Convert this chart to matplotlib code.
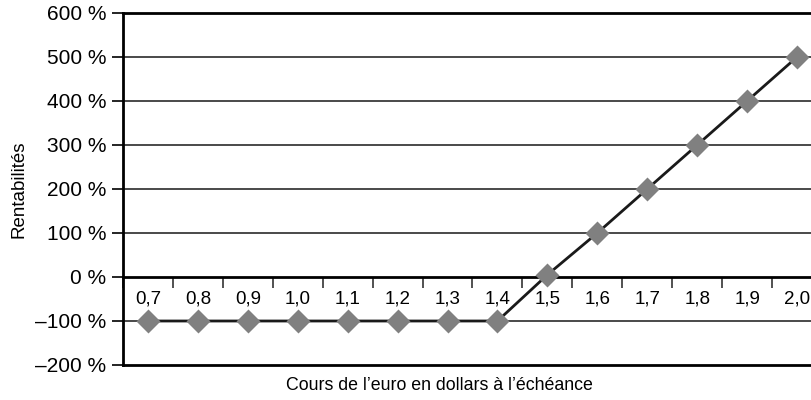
import numpy as np
import matplotlib.pyplot as plt

plt.rcParams['font.family'] = ['Liberation Sans', 'DejaVu Sans']

# cours de l'euro et rentabilités (%)
cours = ['0,7', '0,8', '0,9', '1,0', '1,1', '1,2', '1,3', '1,4',
         '1,5', '1,6', '1,7', '1,8', '1,9', '2,0']
rentab = [-100, -100, -100, -100, -100, -100, -100, -100,
          5, 100, 200, 300, 400, 500]
yticks = [-200, -100, 0, 100, 200, 300, 400, 500, 600]
ylabels = ['–200 %', '–100 %', '0 %', '100 %', '200 %', '300 %',
           '400 %', '500 %', '600 %']

fig = plt.figure(figsize=(8.12, 4.0), dpi=100)
ax = fig.add_axes([123/812, 35/400, 699/812, 352/400])

x = np.arange(len(cours))
ax.plot(x, rentab, color='#1a1a1a', lw=2, zorder=3)
ax.plot(x, rentab, ls='none', marker='D', ms=12, color='#808080',
        mec='none', zorder=4)

ax.set_xlim(-0.5, len(cours) - 0.5)
ax.set_ylim(-200, 600)
ax.set_yticks(yticks)
ax.set_yticklabels(ylabels, fontsize=15)
ax.tick_params(axis='y', length=8, width=1.2, direction='out', pad=4)
ax.set_xticks([])

# grille horizontale
for v in yticks[1:-1]:
    if v != 0:
        ax.axhline(v, color='#3a3a3a', lw=1.3, zorder=1)

for s in ['left', 'bottom', 'top', 'right']:
    ax.spines[s].set_linewidth(2)
    ax.spines[s].set_color('black')

# axe des x sur la ligne 0 %
sec = ax.secondary_xaxis(0.25)
sec.set_xticks(x)
sec.set_xticklabels(cours, fontsize=13.5)
sec.set_xticks(np.arange(-0.5, len(cours)), minor=True)
sec.tick_params(axis='x', which='major', length=0, pad=10)
sec.tick_params(axis='x', which='minor', length=8, width=1.2,
                direction='out', color='#333333')
sec.spines['bottom'].set_linewidth(2)

ax.set_ylabel('Rentabilités', fontsize=13.5)
ax.yaxis.set_label_coords(-0.136, 0.5)
ax.set_xlabel('Cours de l’euro en dollars à l’échéance', fontsize=12.8)
ax.xaxis.set_label_coords(0.453, -0.035)

fig.savefig('out.png', dpi=100)
